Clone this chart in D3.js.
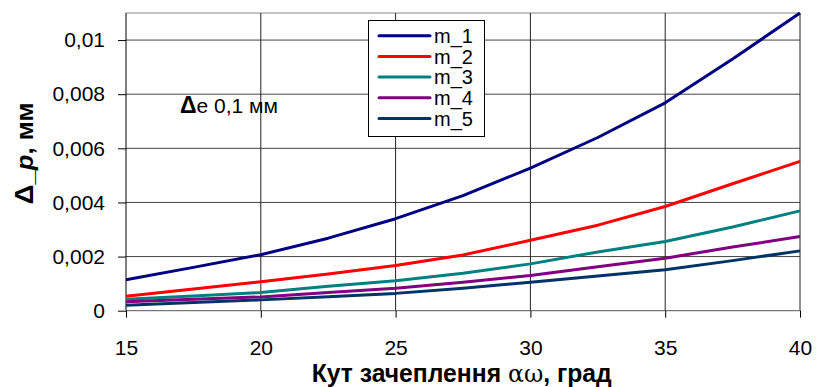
<!DOCTYPE html>
<html><head><meta charset="utf-8">
<script src="https://cdn.jsdelivr.net/npm/d3@7/dist/d3.min.js"></script>
<style>
html,body{margin:0;padding:0;background:#fff;}
svg text{font-family:"Liberation Sans",Arial,sans-serif;}
</style></head>
<body><svg id="c" width="816" height="387"></svg>
<script>
const xValues = [15, 17.5, 20, 22.5, 25, 27.5, 30, 32.5, 35, 37.5, 40];
const m1 = [0.00114, 0.0016, 0.00207, 0.00268, 0.0034, 0.00425, 0.00527, 0.0064, 0.00768, 0.0093, 0.011];
const m2 = [0.00053, 0.0008, 0.00107, 0.00136, 0.00167, 0.00206, 0.0026, 0.00316, 0.00385, 0.00469, 0.00552];
const m3 = [0.00042, 0.00054, 0.00067, 0.0009, 0.00111, 0.00138, 0.00173, 0.00217, 0.00256, 0.00309, 0.00369];
const m4 = [0.00033, 0.00042, 0.00051, 0.00067, 0.00083, 0.00105, 0.0013, 0.00162, 0.00194, 0.00235, 0.00274];
const m5 = [0.0002, 0.0003, 0.0004, 0.00052, 0.00064, 0.00083, 0.00105, 0.00128, 0.00151, 0.00185, 0.00221];
const seriesNames = ["m_1", "m_2", "m_3", "m_4", "m_5"];
const seriesColors = ["#000080", "#FF0000", "#008080", "#800080", "#003366"];
const xTicks = [15, 20, 25, 30, 35, 40];
const yTicks = [0, 0.002, 0.004, 0.006, 0.008, 0.01];
const yTickLabels = ["0", "0,002", "0,004", "0,006", "0,008", "0,01"];
const xTitle = "Кут зачеплення ";
const yTitle = "Δ_p, мм";
const annotation = "e 0,1 мм";

const series = [m1, m2, m3, m4, m5];
const svg = d3.select("#c");
const L = 126, R = 800, T = 13, B = 310.7;
const FS = 21;
const x = d3.scaleLinear().domain([15, 40]).range([L, R]);
const y = d3.scaleLinear().domain([0, 0.011]).range([B, T]);

// grid
const g = svg.append("g");
g.selectAll("line.h").data(yTicks.slice(1)).join("line")
  .attr("x1", L).attr("x2", R).attr("y1", d => y(d)).attr("y2", d => y(d))
  .attr("stroke", "#444").attr("stroke-width", 1);
g.append("line").attr("x1", L).attr("x2", R).attr("y1", T).attr("y2", T).attr("stroke", "#888");
g.selectAll("line.v").data(xTicks.slice(1)).join("line")
  .attr("x1", d => x(d)).attr("x2", d => x(d)).attr("y1", T).attr("y2", B)
  .attr("stroke", "#222").attr("stroke-width", 1);

// axes
const yAxis = d3.axisLeft(y).tickValues(yTicks).tickSize(8).tickPadding(13)
  .tickFormat((d, i) => yTickLabels[i]);
const ya = svg.append("g").attr("transform", `translate(${L},0)`).call(yAxis);
ya.select(".domain").attr("stroke", "#000").attr("d", `M-0,${B}V${T}`);
ya.selectAll("text").attr("font-size", FS).attr("font-family", "Liberation Sans, Arial, sans-serif").attr("fill", "#000");

const xAxis = d3.axisBottom(x).tickValues(xTicks).tickSize(7).tickPadding(22).tickFormat(d3.format("d"));
const xa = svg.append("g").attr("transform", `translate(0,${B})`).call(xAxis);
xa.select(".domain").attr("stroke", "#555").attr("d", `M${L},0H${R}`);
xa.selectAll("text").attr("font-size", FS).attr("font-family", "Liberation Sans, Arial, sans-serif").attr("fill", "#000");

// lines
const line = d3.line().x((d, i) => x(xValues[i])).y(d => y(d));
svg.append("g").selectAll("path").data(series).join("path")
  .attr("d", d => line(d)).attr("fill", "none")
  .attr("stroke", (d, i) => seriesColors[i]).attr("stroke-width", 3)
  .attr("stroke-linejoin", "round");

// annotation
const ann = svg.append("text").attr("x", 180).attr("y", 113).attr("font-size", FS);
ann.append("tspan").attr("font-weight", "bold").attr("font-size", 23).text("Δ");
ann.append("tspan").text(annotation);

// legend
const lg = svg.append("g");
lg.append("rect").attr("x", 368.5).attr("y", 20.5).attr("width", 116).attr("height", 116)
  .attr("fill", "#fff").attr("stroke", "#000").attr("stroke-width", 1);
seriesNames.forEach((n, i) => {
  const yy = 35.7 + i * 20.7;
  lg.append("line").attr("x1", 379).attr("x2", 430).attr("y1", yy).attr("y2", yy)
    .attr("stroke", seriesColors[i]).attr("stroke-width", 3).attr("stroke-linecap", "round");
  lg.append("text").attr("x", 434).attr("y", yy + 7.2).attr("font-size", 20).text(n);
});

// titles
const xt = svg.append("text").attr("x", 461.7).attr("y", 382).attr("text-anchor", "middle")
  .attr("font-size", 25).attr("font-weight", "bold")
  .attr("font-family", "Liberation Sans Narrow, DejaVu Sans Condensed, Liberation Sans, sans-serif")
  .attr("textLength", 300).attr("lengthAdjust", "spacingAndGlyphs");
xt.append("tspan").text(xTitle);
xt.append("tspan").attr("font-weight", "normal").attr("font-family", "DejaVu Serif, serif").attr("font-size", 24).text("αω");
xt.append("tspan").text(", град");

const yt = svg.append("text").attr("transform", "translate(33,153.5) rotate(-90)")
  .attr("text-anchor", "middle").attr("font-size", 23).attr("font-weight", "bold")
  .attr("font-family", "Liberation Sans Narrow, DejaVu Sans Condensed, Liberation Sans, sans-serif")
  .attr("textLength", 102).attr("lengthAdjust", "spacingAndGlyphs");
yt.append("tspan").attr("font-size", 25).text("Δ");
yt.append("tspan").text("_");
yt.append("tspan").attr("font-style", "italic").text("p");
yt.append("tspan").text(", мм");
</script></body></html>
